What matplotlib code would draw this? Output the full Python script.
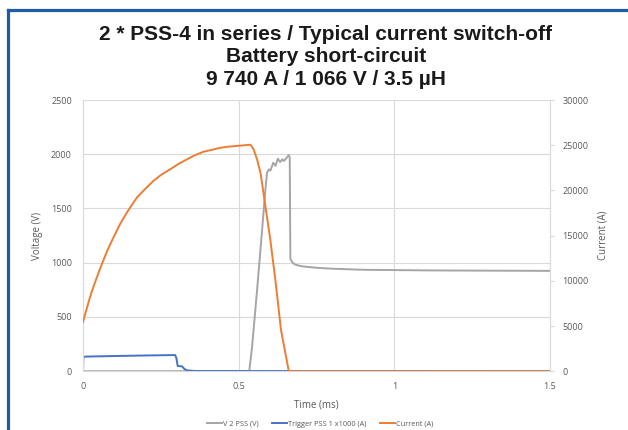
"""plot.py - PSS-4 switch-off oscillogram (voltage / trigger / current)."""

import matplotlib
matplotlib.use("Agg")
import matplotlib.pyplot as plt
from matplotlib.lines import Line2D


# --- data ---
# V 2 PSS (V), left axis
t_volt = [0.0, 0.534, 0.543, 0.559, 0.575, 0.584, 0.591, 0.597, 0.602, 0.611,
          0.618, 0.626, 0.633, 0.640, 0.645, 0.652, 0.661, 0.664, 0.666, 0.672,
          0.680, 0.695, 0.709, 0.752, 0.80, 0.90, 1.12, 1.5]
v_volt = [0, 0, 225, 745, 1295, 1616, 1830, 1861, 1850, 1922,
          1893, 1959, 1928, 1953, 1938, 1960, 1993, 1968, 1036, 1005,
          985, 972, 965, 953, 945, 935, 929, 925]

# Trigger PSS 1 x1000 (A), left axis
t_trig = [0.0, 0.001, 0.01, 0.10, 0.20, 0.296, 0.300, 0.304, 0.318, 0.326,
          0.334, 0.36, 1.5]
v_trig = [0, 133, 135, 140, 145, 149, 120, 48, 45, 20,
          8, 2, 0]

# Current (A), right axis
t_curr = [0.0, 0.01, 0.0225, 0.035, 0.05, 0.065, 0.08, 0.095, 0.119, 0.14,
          0.155, 0.173, 0.195, 0.226, 0.25, 0.280, 0.305, 0.334, 0.36, 0.387,
          0.415, 0.441, 0.47, 0.50, 0.52, 0.538, 0.548, 0.559, 0.570, 0.581,
          0.602, 0.618, 0.636, 0.661, 1.5]
i_curr = [5450, 6700, 8200, 9500, 10900, 12240, 13500, 14600, 16280, 17500,
          18300, 19210, 20000, 21050, 21700, 22340, 22900, 23440, 23900, 24280,
          24500, 24720, 24850, 24940, 25000, 25050, 24540, 23440, 21960, 19400,
          14440, 10040, 4540, 0, 0]

TITLE = ("2 * PSS-4 in series / Typical current switch-off\n"
         "Battery short-circuit\n"
         "9 740 A / 1 066 V / 3.5 µH")
# -----------------------------------

TXT = "#595959"
GRID = "#d9d9d9"


def main() -> None:
    fig = plt.figure(figsize=(6.28, 4.30), dpi=100)
    ax = fig.add_axes([0.1322, 0.1367, 0.7436, 0.6307])
    ax2 = ax.twinx()

    ax.plot(t_volt, v_volt, color="#a5a5a5", lw=1.4, label="V 2 PSS (V)")
    ax.plot(t_trig, v_trig, color="#4472c4", lw=1.4, label="Trigger PSS 1 x1000 (A)")
    ax2.plot(t_curr, i_curr, color="#ed7d31", lw=1.4, label="Current (A)")

    ax.set_xlim(0, 1.5)
    ax.set_ylim(0, 2500)
    ax2.set_ylim(0, 30000)
    ax.set_xticks([0, 0.5, 1, 1.5], ["0", "0.5", "1", "1.5"])
    ax.set_yticks(range(0, 2501, 500))
    ax2.set_yticks(range(0, 30001, 5000))

    ax.grid(True, color=GRID, lw=0.8)
    ax.set_axisbelow(True)
    for a in (ax, ax2):
        for s in a.spines.values():
            s.set_visible(False)
    ax.spines["left"].set_visible(True)
    ax.spines["left"].set_color(GRID)
    ax2.spines["right"].set_visible(True)
    ax2.spines["right"].set_color(GRID)
    ax.spines["bottom"].set_visible(True)
    ax.spines["bottom"].set_color(GRID)

    tick_font = dict(labelsize=6.5, labelcolor=TXT)
    ax.tick_params(axis="both", length=0, pad=8, **tick_font)
    ax2.tick_params(axis="y", length=3, color=GRID, pad=6, **tick_font)
    for lab in ax.get_xticklabels() + ax.get_yticklabels() + ax2.get_yticklabels():
        lab.set_fontfamily("Open Sans")

    lab_font = dict(fontsize=7, color=TXT, family="Open Sans")
    ax.set_xlabel("Time (ms)", labelpad=6, **lab_font)
    ax.set_ylabel("Voltage (V)", labelpad=6, **lab_font)
    ax2.set_ylabel("Current (A)", labelpad=6, **lab_font)

    fig.text(0.519, 0.943, TITLE, ha="center", va="top", fontsize=15,
             fontweight="bold", family="Liberation Sans", color="#1a1a1a",
             linespacing=1.24)

    handles = ax.get_lines() + ax2.get_lines()
    fig.legend(handles, [h.get_label() for h in handles], loc="center",
               bbox_to_anchor=(0.51, 0.014), ncol=3, frameon=False,
               prop={"family": "Open Sans", "size": 5.3}, labelcolor=TXT,
               handlelength=2.0, columnspacing=1.8, handletextpad=0.2)

    # blue frame (left and top edges)
    blue = "#1a5ea8"
    fig.add_artist(Line2D([0.012, 0.012], [0, 0.976], color=blue, lw=2.3,
                          transform=fig.transFigure))
    fig.add_artist(Line2D([0.012, 1.0], [0.976, 0.976], color=blue, lw=2.3,
                          transform=fig.transFigure))

    fig.savefig("out.png", dpi=100)


if __name__ == "__main__":
    main()
